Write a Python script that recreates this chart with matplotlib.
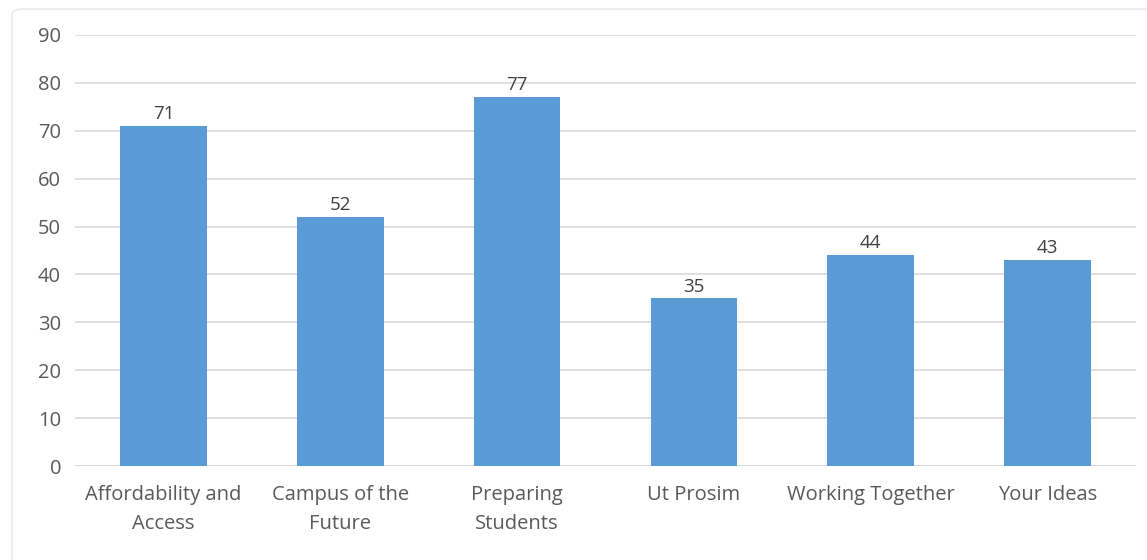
import numpy as np
import matplotlib
matplotlib.use('Agg')
import matplotlib.pyplot as plt
from matplotlib.patches import FancyBboxPatch

categories = ["Affordability and\nAccess", "Campus of the\nFuture", "Preparing\nStudents",
              "Ut Prosim", "Working Together", "Your Ideas"]
values = [71, 52, 77, 35, 44, 43]

plt.rcParams['font.family'] = ['Open Sans', 'DejaVu Sans']
txt = '#595959'

fig = plt.figure(figsize=(11.47, 5.6), dpi=100)
# faint chart border
fig.patches.append(FancyBboxPatch((12/1147, -0.05), 1.2, 1.0 - 9/560 + 0.05,
                                  boxstyle="round,pad=0,rounding_size=0.01",
                                  transform=fig.transFigure, fill=False,
                                  edgecolor='#EAEAEA', linewidth=1.2))
ax = fig.add_axes([75/1147, 1 - 466/560, (1136 - 75)/1147, (466 - 35)/560])

x = np.arange(len(categories))
bars = ax.bar(x, values, width=0.49, color='#5B9BD5', zorder=3)
for b, v in zip(bars, values):
    ax.text(b.get_x() + b.get_width()/2, v + 0.6, str(v), ha='center', va='bottom',
            fontsize=13.5, color='#404040')

ax.set_xlim(-0.5, len(categories) - 0.5)
ax.set_ylim(0, 90)
ax.set_yticks(np.arange(0, 91, 10))
ax.grid(axis='y', color='#D9D9D9', linewidth=1.2, zorder=0)
for s in ax.spines.values():
    s.set_visible(False)
ax.axhline(0, color='#D9D9D9', linewidth=1.2, zorder=2)
ax.tick_params(axis='both', length=0, labelsize=14.5, colors=txt)
ax.tick_params(axis='y', pad=10)
ax.tick_params(axis='x', pad=14)
ax.set_xticks(x)
ax.set_xticklabels(categories, linespacing=1.6)

plt.savefig("out.png", dpi=100)
